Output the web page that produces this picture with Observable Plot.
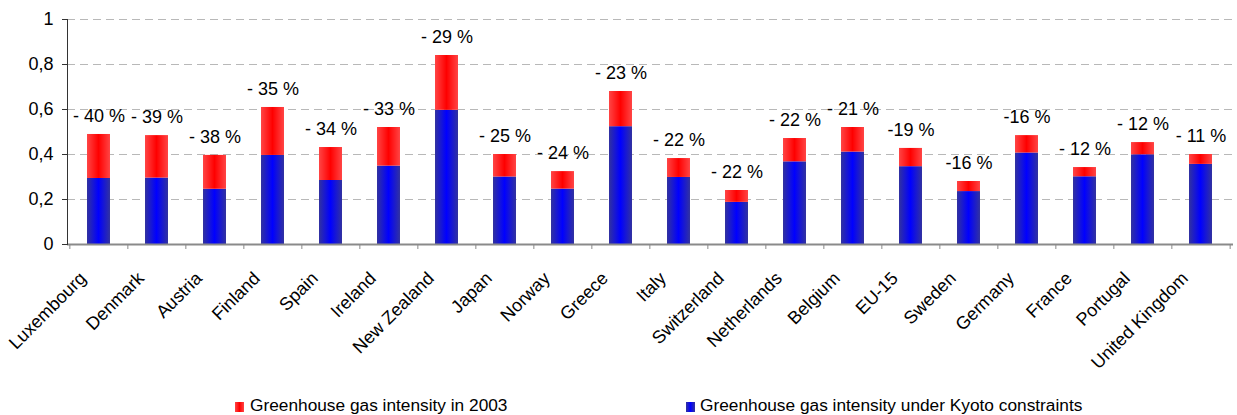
<!DOCTYPE html>
<html>
<head>
<meta charset="utf-8">
<script src="https://cdn.jsdelivr.net/npm/d3@7"></script>
<script src="https://cdn.jsdelivr.net/npm/@observablehq/plot@0.6"></script>
<style>
  html, body { margin: 0; padding: 0; background: #fff; }
  #chart { position: relative; width: 1237px; }
  .legend { position: relative; width: 1237px; height: 25px; font-family: "Liberation Sans", Arial, sans-serif; font-size: 17.3px; color: #000; }
  .legend .swatch { position: absolute; top: 12px; width: 9px; height: 10px; }
  .legend .label { position: absolute; top: 7px; line-height: 17px; white-space: nowrap; }
</style>
</head>
<body>
<div id="chart"></div>
<div class="legend">
  <span class="swatch" style="left:235px; background: linear-gradient(90deg,#ff4545,#ff0000,#ff4545);"></span>
  <span class="label" style="left:250px;">Greenhouse gas intensity in 2003</span>
  <span class="swatch" style="left:686px; background: linear-gradient(90deg,#3232a0,#0000ff,#3232a0);"></span>
  <span class="label" style="left:700px;">Greenhouse gas intensity under Kyoto constraints</span>
</div>
<script>
// Countries, ordered by required reduction
const categories = [
  "Luxembourg", "Denmark", "Austria", "Finland", "Spain", "Ireland",
  "New Zealand", "Japan", "Norway", "Greece", "Italy", "Switzerland",
  "Netherlands", "Belgium", "EU-15", "Sweden", "Germany", "France",
  "Portugal", "United Kingdom"
];

// Greenhouse gas intensity in 2003
const intensity2003 = [
  0.489, 0.484, 0.396, 0.609, 0.431, 0.520,
  0.840, 0.400, 0.324, 0.680, 0.382, 0.240,
  0.471, 0.520, 0.427, 0.280, 0.484, 0.342,
  0.453, 0.400
];

// Reduction needed to meet the Kyoto constraint
const reductionLabels = [
  "- 40 %", "- 39 %", "- 38 %", "- 35 %", "- 34 %", "- 33 %",
  "- 29 %", "- 25 %", "- 24 %", "- 23 %", "- 22 %", "- 22 %",
  "- 22 %", "- 21 %", "-19 %", "-16 %", "-16 %", "- 12 %",
  "- 12 %", "- 11 %"
];

const yTicks = [0, 0.2, 0.4, 0.6, 0.8, 1];

// Kyoto intensity = 2003 intensity reduced by the stated percentage
const reduction = reductionLabels.map(s => +s.replace(/[^0-9]/g, "") / 100);
const rows = categories.map((country, i) => ({
  country,
  total: intensity2003[i],
  kyoto: intensity2003[i] * (1 - reduction[i]),
  label: reductionLabels[i]
}));

const width = 1237, height = 390;
const marginLeft = 67, marginRight = 4, marginTop = 19, marginBottom = 146;
const step = (width - marginLeft - marginRight) / categories.length;
const font = "'Liberation Sans', Arial, sans-serif";

const chart = Plot.plot({
  width, height, marginLeft, marginRight, marginTop, marginBottom,
  style: { fontFamily: font, background: "#fff", color: "#000" },
  x: { domain: categories, paddingInner: 0.6, paddingOuter: 0.3, axis: null },
  y: { domain: [0, 1], axis: null },
  marks: [
    Plot.gridY(yTicks.slice(1), { stroke: "#b8b8b8", strokeOpacity: 1, strokeDasharray: "8,5" }),
    Plot.barY(rows, { x: "country", y1: 0, y2: "kyoto", fill: "url(#gradKyoto)" }),
    Plot.barY(rows, { x: "country", y1: "kyoto", y2: "total", fill: "url(#grad2003)" }),
    // category axis line and the ticks between categories
    Plot.ruleY([0], { stroke: "#8a8a8a", strokeWidth: 2 }),
    Plot.ruleX(categories, { x: d => d, y1: 0, y2: 0, insetBottom: -5, dx: -step / 2, stroke: "#8a8a8a" }),
    Plot.ruleX(categories.slice(-1), { x: d => d, y1: 0, y2: 0, insetBottom: -5, dx: step / 2, stroke: "#8a8a8a" }),
    // value axis
    Plot.frame({ anchor: "left", stroke: "#333" }),
    Plot.axisY({
      ticks: yTicks,
      tickFormat: d => String(d).replace(".", ","),
      tickSize: 5, tickPadding: 9, fontSize: 18, stroke: "#333", fill: "#000"
    }),
    // reduction labels above each bar
    Plot.text(rows, { x: "country", y: "total", text: "label", dy: -18, fontSize: 18, fill: "#000" }),
    // rotated country names
    Plot.text(categories, {
      x: d => d, text: d => d, frameAnchor: "bottom",
      rotate: -45, textAnchor: "end", lineAnchor: "bottom",
      dx: -12, dy: 35, fontSize: 18, fill: "#000"
    })
  ]
});

// horizontal shading of the bars
const defs = document.createElementNS("http://www.w3.org/2000/svg", "defs");
defs.innerHTML = `
  <linearGradient id="grad2003" x1="0" x2="1" y1="0" y2="0">
    <stop offset="0" stop-color="#ff4545"/>
    <stop offset="0.5" stop-color="#ff0000"/>
    <stop offset="1" stop-color="#ff4545"/>
  </linearGradient>
  <linearGradient id="gradKyoto" x1="0" x2="1" y1="0" y2="0">
    <stop offset="0" stop-color="#3232a0"/>
    <stop offset="0.5" stop-color="#0000ff"/>
    <stop offset="1" stop-color="#3232a0"/>
  </linearGradient>`;
chart.prepend(defs);

document.getElementById("chart").appendChild(chart);
</script>
</body>
</html>
